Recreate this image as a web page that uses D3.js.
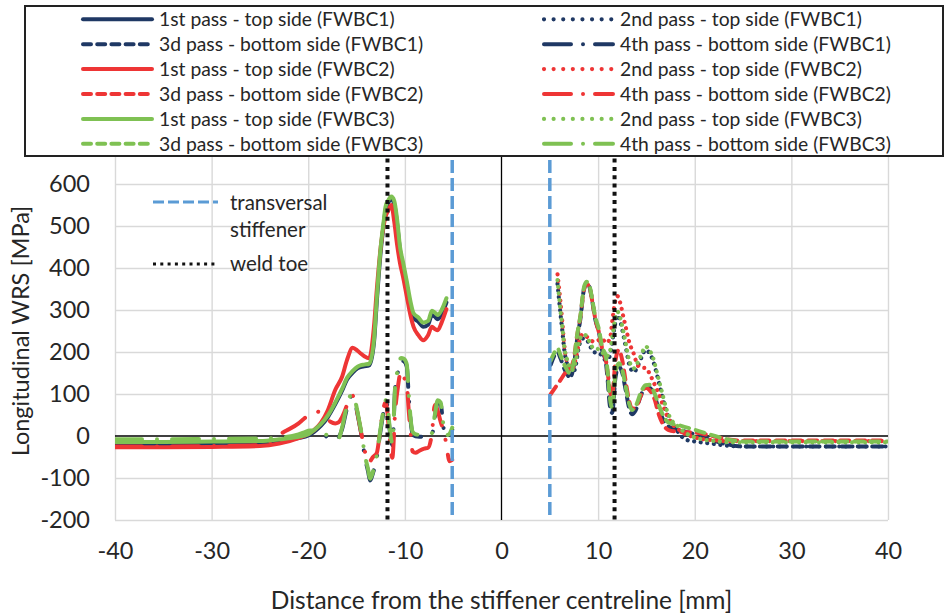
<!DOCTYPE html>
<html>
<head>
<meta charset="utf-8">
<script src="https://cdn.jsdelivr.net/npm/d3@7"></script>
<style>
  body { margin: 0; background: #fff; }
  svg { display: block; }
  text { font-family: Lato, "Open Sans", sans-serif; fill: #262626; }
</style>
</head>
<body>
<svg id="chart" width="945" height="616"></svg>
<script>
// ---- axes ----
const xTicks = [-40, -30, -20, -10, 0, 10, 20, 30, 40];
const yTicks = [-200, -100, 0, 100, 200, 300, 400, 500, 600, 700];
const xTitle = "Distance from the stiffener centreline [mm]";
const yTitle = "Longitudinal WRS [MPa]";

// ---- reference positions [mm] ----
const stiffenerEdges = [-5.1, 5.0];
const weldToes = [-11.8, 11.7];

// ---- 1st pass - top side (solid) ----
const pass1X = [-40, -35, -30, -25, -23, -21, -20, -19.4, -18.7, -18, -17.2, -16.5, -16, -15.4, -14.9, -14.6, -14.2, -13.7, -13.2, -12.9, -12.5, -12.2, -12.0, -11.7, -11.4, -11.1, -10.8, -10.5, -10.2, -9.8, -9.4, -9.1, -8.6, -8.1, -7.6, -7.2, -6.9, -6.6, -6.2, -5.7];
const pass1_FWBC1 = [-20, -20, -19, -17, -12, -5, 1, 10, 24, 44, 76, 108, 134, 151, 161, 164, 166, 168, 222, 322, 440, 502, 538, 556, 564, 552, 505, 442, 405, 358, 306, 282, 272, 260, 265, 288, 284, 278, 290, 318];
const pass1_FWBC2 = [-27, -27, -26, -24, -18, -5, 5, 14, 31, 60, 110, 141, 180, 210, 203, 197, 190, 185, 260, 350, 450, 500, 522, 538, 550, 510, 455, 411, 380, 332, 285, 260, 240, 228, 240, 260, 255, 252, 270, 302];
const pass1_FWBC3 = [-14, -14, -13, -12, -8, -2, 4, 14, 28, 48, 80, 112, 138, 155, 165, 168, 170, 172, 228, 330, 450, 510, 546, 562, 570, 560, 515, 450, 415, 368, 318, 292, 282, 270, 274, 298, 294, 288, 300, 328];

// ---- 2nd pass - top side (dotted) ----
const pass2X = [5.8, 6.1, 6.3, 6.5, 6.8, 7.3, 7.7, 8.0, 8.4, 8.7, 9.1, 9.5, 10.0, 10.4, 10.8, 11.2, 11.5, 11.8, 12.0, 12.3, 12.6, 12.9, 13.2, 13.7, 14.1, 14.5, 14.9, 15.3, 15.7, 16.1, 16.6, 17.1, 17.6, 18.2, 19.0, 20.0, 21.0, 22.0, 23.0, 24.0, 26.0, 30.0, 35.0, 40.0];
const pass2_FWBC1 = [362, 292, 250, 205, 170, 145, 170, 212, 232, 232, 218, 200, 198, 192, 180, 190, 230, 272, 288, 272, 242, 207, 172, 152, 167, 188, 205, 198, 178, 145, 98, 55, 30, 12, -8, -13, -16, -19, -22, -24, -25, -25, -25, -25];
const pass2_FWBC2 = [385, 320, 270, 215, 175, 160, 185, 220, 242, 238, 232, 225, 228, 232, 222, 230, 280, 325, 333, 316, 285, 255, 225, 195, 168, 163, 162, 150, 130, 110, 80, 50, 30, 18, 5, -3, -8, -10, -12, -12, -12, -12, -12, -12];
const pass2_FWBC3 = [371, 300, 260, 213, 181, 157, 181, 221, 240, 240, 225, 209, 207, 200, 189, 200, 240, 284, 296, 280, 250, 215, 181, 161, 175, 195, 213, 205, 185, 150, 105, 62, 38, 24, 8, -3, -9, -12, -14, -15, -15, -15, -15, -15];

// ---- 3d pass - bottom side (dashed) ----
const pass3X = [5.1, 5.4, 5.8, 6.1, 6.6, 7.1, 7.5, 7.8, 8.2, 8.5, 8.8, 9.1, 9.4, 9.7, 10.1, 10.4, 10.8, 11.0, 11.2, 11.45, 11.8, 12.15, 12.5, 12.85, 13.2, 13.5, 13.9, 14.4, 14.9, 15.3, 15.8, 16.3, 16.8, 17.3, 18.3, 20.1, 21.8, 23.4, 25, 30, 35, 40];
const pass3_FWBC1 = [170, 188, 200, 185, 155, 140, 170, 225, 285, 345, 363, 355, 320, 278, 245, 205, 175, 130, 75, 55, 140, 165, 150, 110, 68, 52, 62, 95, 115, 115, 98, 62, 36, 22, 15, 3, -10, -20, -25, -25, -25, -25];
const pass3_FWBC2 = [100, 110, 123, 133, 150, 160, 185, 235, 290, 345, 362, 355, 320, 280, 245, 210, 180, 150, 110, 95, 180, 205, 180, 130, 85, 65, 68, 95, 115, 110, 90, 50, 25, 14, 10, 8, 0, -8, -11, -11, -11, -11];
const pass3_FWBC3 = [180, 195, 209, 193, 165, 149, 181, 236, 292, 350, 367, 358, 324, 284, 252, 213, 189, 150, 95, 68, 150, 173, 157, 118, 78, 62, 72, 102, 121, 122, 104, 72, 46, 32, 26, 14, 2, -8, -13, -13, -13, -13];

// ---- 4th pass - bottom side (long dash - dot) ----
const pass4X = [-40, -35, -30, -25, -22.5, -21, -20.5, -19.8, -19.1, -18.4, -17.7, -17.2, -16.9, -16.5, -16.1, -15.8, -15.5, -15.2, -14.8, -14.5, -14.1, -13.8, -13.6, -13.3, -12.9, -12.6, -12.3, -12.0, -11.8, -11.6, -11.3, -11.0, -10.7, -10.4, -10.1, -9.8, -9.6, -9.4, -9.2, -8.9, -8.5, -8.0, -7.6, -7.2, -6.9, -6.6, -6.3, -6.0, -5.7, -5.4, -5.1];
const pass4_FWBC1 = [-14, -14, -13, -11, -7, 0, 4, 9, 8, 2, -6, -10, -5, 16, 56, 82, 95, 83, 40, 3, -55, -85, -106, -88, -50, 0, 45, 80, 72, 20, -22, 115, 155, 180, 178, 165, 95, 35, 5, -1, -2, -1, -2, 2, 45, 80, 76, 20, -4, 0, 15];
const pass4_FWBC2 = [-25, -25, -24, -22, 10, 30, 40, 52, 58, 50, 34, 30, 32, 45, 67, 88, 98, 85, 42, 5, -40, -63, -60, -50, -40, 5, 55, 80, 55, 0, -52, 60, 120, 155, 140, 121, 60, 7, -37, -40, -35, -30, -28, 7, 74, 60, 34, 12, -20, -60, -57];
const pass4_FWBC3 = [-8, -8, -7, -6, -3, 4, 8, 13, 12, 6, -2, -6, -7, 20, 62, 88, 100, 88, 45, 8, -50, -80, -102, -85, -45, 5, 50, 85, 78, 26, -17, 121, 160, 186, 184, 170, 100, 40, 10, 4, 3, 4, 3, 7, 50, 85, 80, 25, 2, 5, 20];

// ---- colours and line styles ----
const colors = { FWBC1: "#1f3864", FWBC2: "#ee3535", FWBC3: "#7fc153" };
const styles = {
  solid:   { width: 4,   dash: null,              cap: "round" },
  dotted:  { width: 4.2, dash: "0.01 6.6",        cap: "round" },
  dashed:  { width: 4,   dash: "9 7",             cap: "round" },
  dashdot: { width: 4,   dash: "27 15 0.01 15",   cap: "round" }
};
const legendDash = { solid: null, dotted: "0.01 9.6", dashed: "8 6.2", dashdot: "27 12 0.01 12" };

const passes = [
  { label: "1st pass - top side",    style: "solid",   x: pass1X, ys: { FWBC1: pass1_FWBC1, FWBC2: pass1_FWBC2, FWBC3: pass1_FWBC3 } },
  { label: "2nd pass - top side",    style: "dotted",  x: pass2X, ys: { FWBC1: pass2_FWBC1, FWBC2: pass2_FWBC2, FWBC3: pass2_FWBC3 } },
  { label: "3d pass - bottom side",  style: "dashed",  x: pass3X, ys: { FWBC1: pass3_FWBC1, FWBC2: pass3_FWBC2, FWBC3: pass3_FWBC3 } },
  { label: "4th pass - bottom side", style: "dashdot", x: pass4X, ys: { FWBC1: pass4_FWBC1, FWBC2: pass4_FWBC2, FWBC3: pass4_FWBC3 } }
];

const series = [];
["FWBC1", "FWBC2", "FWBC3"].forEach(c => {
  passes.forEach(p => {
    series.push({
      name: `${p.label} (${c})`,
      color: colors[c],
      style: p.style,
      points: p.x.map((xv, i) => [xv, p.ys[c][i]])
    });
  });
});

// ---- chart ----
const svg = d3.select("#chart");
const plot = { left: 115, right: 888, top: 142, bottom: 520 };

const x = d3.scaleLinear().domain([-40, 40]).range([plot.left, plot.right]);
const y = d3.scaleLinear().domain([-200, 700]).range([plot.bottom, plot.top]);

svg.append("defs").append("clipPath").attr("id", "plotClip")
  .append("rect")
  .attr("x", plot.left).attr("y", plot.top)
  .attr("width", plot.right - plot.left).attr("height", plot.bottom - plot.top);

// gridlines
const gx = svg.append("g")
  .attr("transform", `translate(0,${plot.bottom})`)
  .call(d3.axisBottom(x).tickValues(xTicks.filter(d => d !== 0))
    .tickSize(-(plot.bottom - plot.top)).tickFormat(""));
gx.select(".domain").remove();
gx.selectAll("line").attr("stroke", "#d9d9d9").attr("stroke-width", 1.4);

const gy = svg.append("g")
  .attr("transform", `translate(${plot.left},0)`)
  .call(d3.axisLeft(y).tickValues(yTicks.filter(d => d !== 0))
    .tickSize(-(plot.right - plot.left)).tickFormat(""));
gy.select(".domain").remove();
gy.selectAll("line").attr("stroke", "#d9d9d9").attr("stroke-width", 1.4);

// axis lines through the origin
svg.append("line")
  .attr("x1", plot.left).attr("x2", plot.right)
  .attr("y1", y(0)).attr("y2", y(0))
  .attr("stroke", "#000").attr("stroke-width", 1.3);
svg.append("line")
  .attr("x1", x(0)).attr("x2", x(0))
  .attr("y1", plot.top).attr("y2", plot.bottom)
  .attr("stroke", "#000").attr("stroke-width", 1.3);

// tick labels
const xLab = svg.append("g")
  .attr("transform", `translate(0,${plot.bottom})`)
  .call(d3.axisBottom(x).tickValues(xTicks).tickSize(0).tickPadding(22)
    .tickFormat(d => String(d)));
xLab.select(".domain").remove();
xLab.selectAll("text").style("font-size", "23.5px").attr("fill", "#262626");

const yLab = svg.append("g")
  .attr("transform", `translate(${plot.left},0)`)
  .call(d3.axisLeft(y).tickValues(yTicks.filter(d => d <= 600)).tickSize(0).tickPadding(25)
    .tickFormat(d => String(d)));
yLab.select(".domain").remove();
yLab.selectAll("text").style("font-size", "23.5px").attr("fill", "#262626");

// axis titles
svg.append("text")
  .attr("x", x(0)).attr("y", 609)
  .attr("text-anchor", "middle")
  .style("font-size", "24.5px")
  .text(xTitle);
svg.append("text")
  .attr("transform", `translate(29,${(plot.top + plot.bottom) / 2}) rotate(-90)`)
  .attr("text-anchor", "middle")
  .style("font-size", "23.5px")
  .text(yTitle);

// data series
const line = d3.line()
  .x(d => x(d[0]))
  .y(d => y(d[1]))
  .curve(d3.curveMonotoneX);

const dataG = svg.append("g").attr("clip-path", "url(#plotClip)");
series.forEach(s => {
  const st = styles[s.style];
  dataG.append("path")
    .datum(s.points)
    .attr("d", line)
    .attr("fill", "none")
    .attr("stroke", s.color)
    .attr("stroke-width", st.width)
    .attr("stroke-linecap", st.cap)
    .attr("stroke-linejoin", "round")
    .attr("stroke-dasharray", st.dash);
});

// stiffener edges and weld toes
stiffenerEdges.forEach(v => {
  svg.append("line")
    .attr("x1", x(v)).attr("x2", x(v))
    .attr("y1", plot.top).attr("y2", plot.bottom)
    .attr("stroke", "#5b9bd5").attr("stroke-width", 3.5)
    .attr("stroke-dasharray", "13 5");
});
weldToes.forEach(v => {
  svg.append("line")
    .attr("x1", x(v)).attr("x2", x(v))
    .attr("y1", plot.top).attr("y2", plot.bottom)
    .attr("stroke", "#111").attr("stroke-width", 4)
    .attr("stroke-dasharray", "4 4.3");
});

// key for the reference lines
const key = svg.append("g");
key.append("line").attr("x1", 153).attr("x2", 218).attr("y1", 202).attr("y2", 202)
  .attr("stroke", "#5b9bd5").attr("stroke-width", 3.2).attr("stroke-dasharray", "11 4");
key.append("line").attr("x1", 153).attr("x2", 218).attr("y1", 264).attr("y2", 264)
  .attr("stroke", "#111").attr("stroke-width", 3).attr("stroke-dasharray", "3 4.3");
[["transversal", 203], ["stiffener", 230], ["weld toe", 264]].forEach(([t, cy]) => {
  key.append("text").attr("x", 230).attr("y", cy).attr("dy", "0.35em")
    .style("font-size", "20.5px").text(t);
});

// legend box
const leg = svg.append("g");
leg.append("rect")
  .attr("x", 25).attr("y", 6).attr("width", 918).attr("height", 150)
  .attr("fill", "#fff").attr("stroke", "#222").attr("stroke-width", 2);

series.forEach((s, i) => {
  const row = Math.floor(i / 2), col = i % 2;
  const cy = 19.3 + row * 24.9;
  const x0 = col === 0 ? 83 : 544;
  const x1 = col === 0 ? 152 : 613;
  leg.append("line")
    .attr("x1", x0).attr("x2", x1).attr("y1", cy).attr("y2", cy)
    .attr("stroke", s.color)
    .attr("stroke-width", styles[s.style].width)
    .attr("stroke-linecap", "round")
    .attr("stroke-dasharray", legendDash[s.style]);
  leg.append("text")
    .attr("x", x1 + 7).attr("y", cy).attr("dy", "0.35em")
    .style("font-size", "19.3px")
    .text(s.name);
});
</script>
</body>
</html>
